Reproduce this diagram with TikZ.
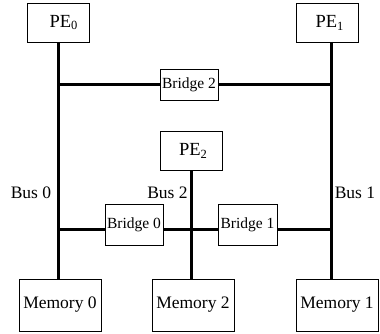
\documentclass[tikz,border=0pt]{standalone}
\usepackage{fontspec}
\setmainfont{Liberation Serif}
\newcommand{\pesub}[1]{PE\raisebox{-0.35ex}{\fontsize{12.5}{12.5}\selectfont #1}}
\begin{document}
\begin{tikzpicture}[x=1pt,y=-1pt,
  box/.style={draw=black,line width=0.7pt,rectangle,inner sep=0pt,anchor=center},
  pebox/.style={box,minimum width=62pt,minimum height=39pt,font=\fontsize{18.5}{18.5}\selectfont},
  brbox/.style={box,minimum width=58pt,font=\fontsize{15.5}{15.5}\selectfont},
  membox/.style={box,minimum width=82pt,minimum height=52pt,font=\fontsize{17.5}{17.5}\selectfont},
  bus/.style={line width=3pt},
  lbl/.style={font=\fontsize{17.5}{17.5}\selectfont,inner sep=0pt}]
\useasboundingbox (0,0) rectangle (380,334);
\node[pebox] (pe0) at (58,22.5) {\hspace*{11pt}\pesub{0}};
\node[pebox] (pe1) at (327.5,22.5) {\hspace*{4pt}\pesub{1}};
\node[pebox] (pe2) at (191,150.5) {\hspace*{4pt}\pesub{2}};
\node[brbox,minimum height=31pt] (br2) at (189,84.5) {Bridge 2};
\node[brbox,minimum height=41pt] (br0) at (134,224.5) {Bridge 0};
\node[brbox,minimum height=41pt,minimum width=59pt] (br1) at (247.5,224.5) {Bridge 1};
\node[membox] (m0) at (60,305) {Memory 0};
\node[membox] (m2) at (193,305) {Memory 2};
\node[membox] (m1) at (337,305) {Memory 1};
\node[lbl] (l0) at (31,193) {Bus 0};
\node[lbl] (l2) at (167.5,193) {Bus 2};
\node[lbl] (l1) at (355,193) {Bus 1};
% bus coordinates
\coordinate (b0t) at (58,42);
\coordinate (b0b) at (58,279);
\coordinate (b1t) at (331,42);
\coordinate (b1b) at (331,279);
\coordinate (b2t) at (191,170);
\coordinate (b2b) at (191,279);
\coordinate (h2l) at (58,85);
\coordinate (h2r) at (331,85);
\coordinate (h0l) at (58,229);
\coordinate (h0r) at (331,229);
\draw[bus] (b0t) -- (b0b);
\draw[bus] (b1t) -- (b1b);
\draw[bus] (b2t) -- (b2b);
\draw[bus] (h2l) -- (h2l -| br2.west);
\draw[bus] (h2r -| br2.east) -- (h2r);
\draw[bus] (h0l) -- (h0l -| br0.west);
\draw[bus] (h0l -| br0.east) -- (h0l -| br1.west);
\draw[bus] (h0r -| br1.east) -- (h0r);
\end{tikzpicture}
\end{document}
